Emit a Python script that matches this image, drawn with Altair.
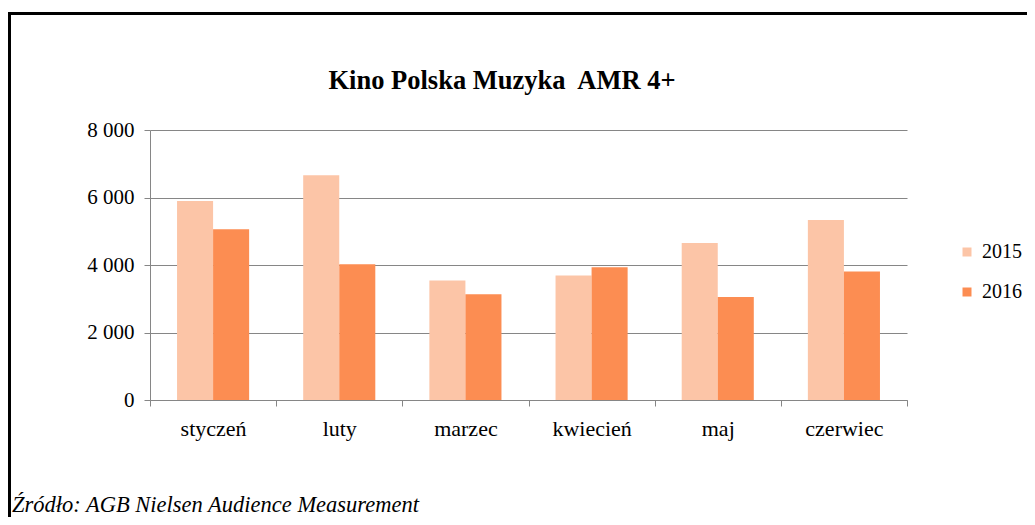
import altair as alt
import pandas as pd

months = ["styczeń", "luty", "marzec", "kwiecień", "maj", "czerwiec"]
years = ["2015", "2016"]
v2015 = [5900, 6660, 3540, 3690, 4650, 5330]
v2016 = [5060, 4020, 3130, 3930, 3050, 3810]
colors = ["#FCC5A7", "#FC8D52"]
title_text = "Kino Polska Muzyka\u00a0 AMR 4+"
source_text = "Źródło: AGB Nielsen Audience Measurement"
y_ticks = [0, 2000, 4000, 6000, 8000]

rows = []
for m, a, b in zip(months, v2015, v2016):
    rows.append({"month": m, "year": "2015", "value": a})
    rows.append({"month": m, "year": "2016", "value": b})
df = pd.DataFrame(rows)

W, H = 757, 270
serif = "Liberation Serif, Times New Roman, serif"
gray = "#868686"

bars = alt.Chart(df).mark_bar().encode(
    x=alt.X(
        "month:N",
        sort=months,
        scale=alt.Scale(paddingInner=0, paddingOuter=0),
        axis=alt.Axis(
            title=None, tickBand="extent", labelAngle=0, labelFont=serif,
            labelFontSize=22, labelColor="#000", labelPadding=12,
            domainColor=gray, tickColor=gray, tickSize=6, grid=False,
        ),
    ),
    xOffset=alt.XOffset("year:N", sort=years,
                        scale=alt.Scale(paddingOuter=0.75, paddingInner=0)),
    y=alt.Y(
        "value:Q",
        scale=alt.Scale(domain=[0, 8000]),
        axis=alt.Axis(
            values=y_ticks, title=None,
            labelExpr="replace(format(datum.value, ','), ',', ' ')",
            labelFont=serif, labelFontSize=21, labelColor="#000",
            labelPadding=10, domainColor=gray, tickColor=gray, tickSize=6,
            gridColor=gray, gridWidth=1,
        ),
    ),
    color=alt.Color(
        "year:N",
        scale=alt.Scale(domain=years, range=colors),
        legend=alt.Legend(
            title=None, orient="none", legendX=807, legendY=112,
            symbolType="square", symbolSize=81, symbolStrokeWidth=0,
            labelFont=serif, labelFontSize=20, labelColor="#000",
            rowPadding=20, labelOffset=5, padding=0,
        ),
    ),
)

ttl = alt.Chart(pd.DataFrame({"t": [title_text]})).mark_text(
    align="center", baseline="alphabetic", font=serif, fontSize=26.5,
    fontWeight="bold", color="#000",
).encode(text="t:N", x=alt.value(502 - 150), y=alt.value(89 - 130))

src = alt.Chart(pd.DataFrame({"t": [source_text]})).mark_text(
    align="left", baseline="alphabetic", font=serif, fontSize=22.5,
    fontStyle="italic", color="#000",
).encode(text="t:N", x=alt.value(12 - 150), y=alt.value(512 - 130))

one = pd.DataFrame({"k": [1]})
top_border = alt.Chart(one).mark_rule(color="#000", strokeWidth=3).encode(
    x=alt.value(-145), x2=alt.value(900), y=alt.value(-116.5)
)
left_border = alt.Chart(one).mark_rule(color="#000", strokeWidth=3).encode(
    x=alt.value(-140.5), y=alt.value(-118), y2=alt.value(420)
)

chart = alt.layer(bars, ttl, src, top_border, left_border).properties(
    width=W, height=H,
    padding={"left": 142, "top": 122, "right": 120, "bottom": 117},
    autosize="none",
    background="white",
).configure_view(stroke=None)

chart.save("out.html", embed_options={"renderer": "svg", "actions": False})
